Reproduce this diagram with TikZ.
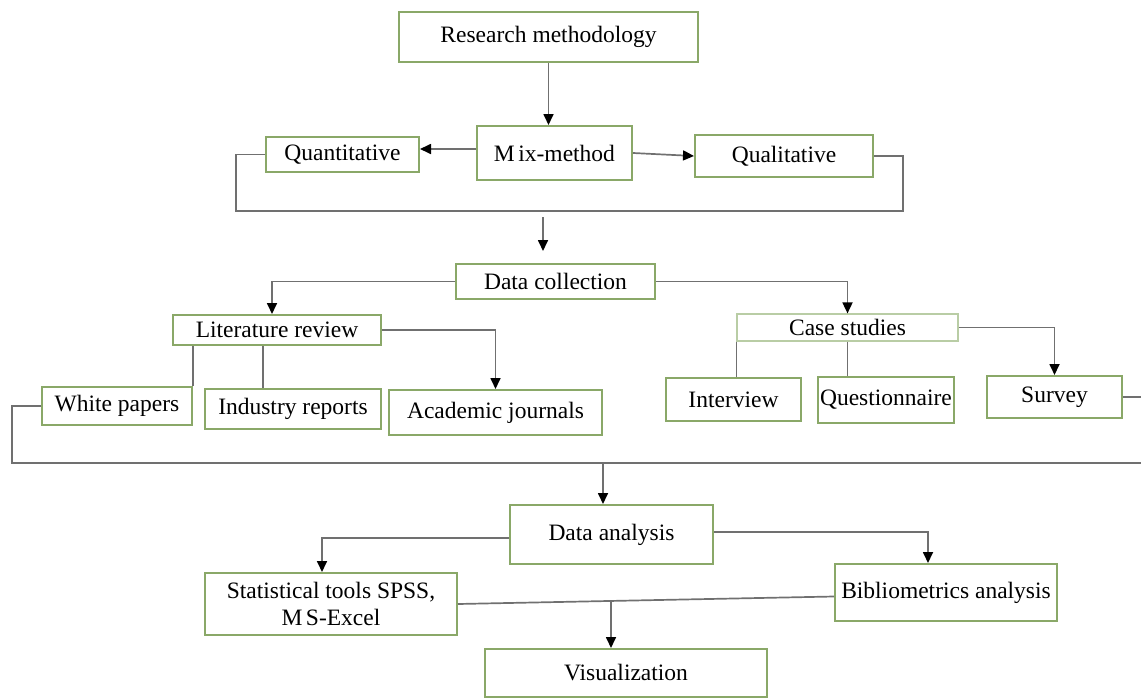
\documentclass[tikz,border=0pt]{standalone}
\usepackage{fontspec}
\setmainfont{Liberation Serif}
\usetikzlibrary{arrows.meta}
\definecolor{boxgreen}{RGB}{138,168,104}
\definecolor{lightgreen}{RGB}{185,205,165}
\definecolor{linegray}{RGB}{112,112,112}
\tikzset{
  box/.style={draw=boxgreen, line width=2pt, fill=white, inner sep=0pt, align=center,
    font=\fontsize{23.5}{26}\selectfont},
  ln/.style={draw=linegray, line width=1.7pt},
  arr/.style={ln, -{Triangle[length=11pt,width=10pt,fill=black,color=black]}},
}
\begin{document}
\begin{tikzpicture}[x=1pt,y=-1pt]
\useasboundingbox (0,0) rectangle (1141,699);
% nodes
\node[box, minimum width=299, minimum height=50] (rm) at (548.5,37) {Research methodology};
\node[box, minimum width=155, minimum height=54] (mix) at (554.5,153) {M\hspace{0.15em}ix-method};
\node[box, minimum width=153, minimum height=35] (quant) at (342.5,154.5) {Quantitative};
\node[box, minimum width=178, minimum height=42] (qual) at (784,156) {Qualitative};
\node[box, minimum width=199, minimum height=35] (dc) at (555.5,281.5) {Data collection};
\node[box, minimum width=208, minimum height=30] (lit) at (277,330) {Literature review};
\node[box, minimum width=150, minimum height=38] (wp) at (117,406) {White papers};
\node[box, minimum width=176, minimum height=40] (ir) at (293,409) {Industry reports};
\node[box, minimum width=213, minimum height=45] (aj) at (495.5,412.5) {Academic journals};
\node[box, draw=lightgreen, line width=1.2pt, minimum width=221, minimum height=27] (cs) at (847.5,327.5) {Case studies};
\node[box, minimum width=135, minimum height=43] (iv) at (733.5,399.5) {Interview};
\node[box, minimum width=136, minimum height=46] (qn) at (886,400) {Questionnaire};
\node[box, minimum width=135, minimum height=42] (sv) at (1054.5,397) {Survey};
\node[box, minimum width=203, minimum height=59] (da) at (611.5,534.5) {Data analysis};
\node[box, minimum width=252, minimum height=62] (st) at (331,604) {Statistical tools SPSS,\\[1pt] M\hspace{0.15em}S-Excel};
\node[box, minimum width=222, minimum height=57] (bib) at (946,592.5) {Bibliometrics analysis};
\node[box, minimum width=282, minimum height=48] (vis) at (626,673) {Visualization};
% coordinates
\coordinate (m1) at ([yshift=4pt]mix.west);
\coordinate (b1) at (236,211);
\coordinate (b2) at (903,211);
\coordinate (b3) at (543,217);
\coordinate (b4) at (543,251);
\coordinate (c1) at (12,463);
\coordinate (c2) at (1141,463);
\coordinate (e1) at (1141,397);
\coordinate (b5) at (603,463);
\coordinate (b6) at (611,600);
% connectors
\draw[arr] (rm.south) -- (rm.south |- mix.north);
\draw[arr] (m1) -- (quant.east |- m1);
\draw[arr] (mix.east) -- (qual.west);
\draw[ln] (quant.west) -| (b1) -- (b2) |- (qual.east);
\draw[arr] (b3) -- (b4);
\draw[arr] (dc.west) -| ([xshift=-5pt]lit.north);
\draw[arr] (lit.east) -| (aj.north);
\draw[ln] (wp.north east) -- (wp.north east |- lit.south);
\draw[ln] ([xshift=-30pt]ir.north) -- ([xshift=-30pt]ir.north |- lit.south);
\draw[arr] (dc.east) -| (cs.north);
\draw[ln] (cs.south west) -- (cs.south west |- iv.north);
\draw[ln] (cs.south) -- (cs.south |- qn.north);
\draw[arr] (cs.east) -| (sv.north);
\draw[ln] (sv.east) -- (e1);
\draw[ln] (wp.west) -| (c1) -- (c2);
\draw[arr] (b5) -- (b5 |- da.north);
\draw[arr] ([yshift=-3.5pt]da.west) -| ([xshift=-9pt]st.north);
\draw[arr] ([yshift=2.5pt]da.east) -| ([xshift=-18pt]bib.north);
\draw[ln] (st.east) -- ([yshift=-4pt]bib.west);
\draw[arr] (b6) -- (b6 |- vis.north);
\end{tikzpicture}
\end{document}
